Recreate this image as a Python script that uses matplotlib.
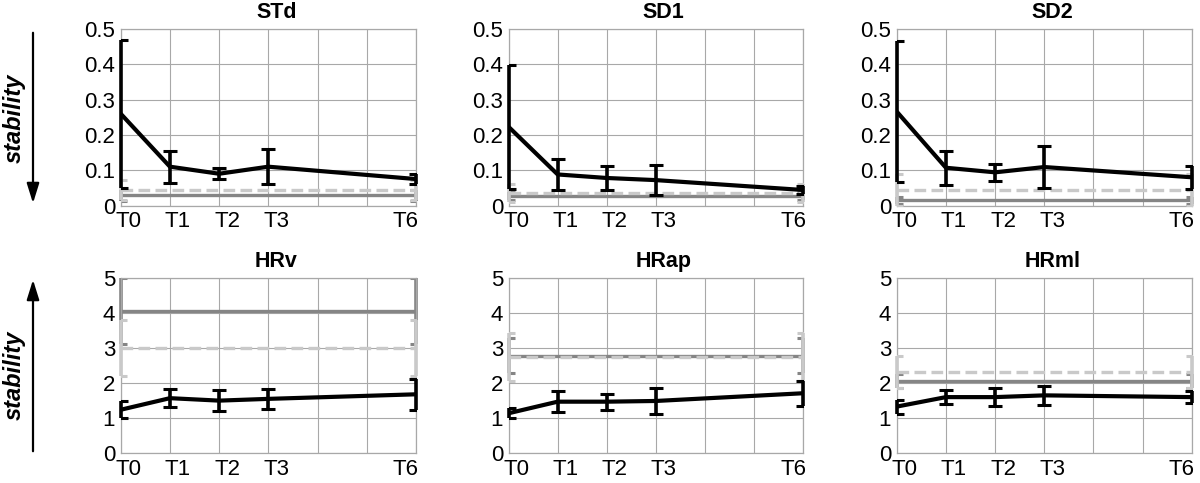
import matplotlib
matplotlib.use('Agg')
import matplotlib.pyplot as plt
from matplotlib.transforms import ScaledTranslation

plt.rcParams['font.family'] = ['Liberation Sans', 'DejaVu Sans']

# ---------------- data ----------------
time_labels = ['T0', 'T1', 'T2', 'T3', 'T6']
time_pos = [0, 1, 2, 3, 6]
titles = ['STd', 'SD1', 'SD2', 'HRv', 'HRap', 'HRml']

std_mean = [0.26, 0.11, 0.09, 0.11, 0.075]
std_err = [0.21, 0.045, 0.015, 0.05, 0.013]
sd1_mean = [0.223, 0.088, 0.078, 0.072, 0.044]
sd1_err = [0.175, 0.043, 0.035, 0.043, 0.01]
sd2_mean = [0.266, 0.107, 0.094, 0.109, 0.08]
sd2_err = [0.2, 0.048, 0.024, 0.06, 0.032]
hrv_mean = [1.24, 1.57, 1.5, 1.55, 1.68]
hrv_err = [0.24, 0.26, 0.3, 0.29, 0.44]
hrap_mean = [1.14, 1.47, 1.47, 1.49, 1.71]
hrap_err = [0.14, 0.3, 0.23, 0.37, 0.36]
hrml_mean = [1.33, 1.6, 1.6, 1.65, 1.6]
hrml_err = [0.2, 0.2, 0.25, 0.28, 0.18]

# reference groups (dark gray solid, light gray dashed)
dark_mean = [0.029, 0.027, 0.015, 4.05, 2.78, 2.05]
dark_err = [0.015, 0.012, 0.01, 0.95, 0.5, 0.2]
light_mean = [0.044, 0.036, 0.043, 3.0, 2.75, 2.32]
light_err = [0.027, 0.026, 0.045, 0.8, 0.68, 0.45]

means = [std_mean, sd1_mean, sd2_mean, hrv_mean, hrap_mean, hrml_mean]
errs = [std_err, sd1_err, sd2_err, hrv_err, hrap_err, hrml_err]
ylims = [0.5, 0.5, 0.5, 5, 5, 5]

# ---------------- figure ----------------
fig = plt.figure(figsize=(12, 4.83), dpi=100)

lefts = [0.1006, 0.4238, 0.7473]
widths = [0.246, 0.2454, 0.2458]
bottoms = [0.5745, 0.0615]
heights = [0.3654, 0.3635]

DARK = '#858585'
LIGHT = '#c9c9c9'
GRID = '#a8a8a8'


def draw_errline(ax, x, y, e, color, lw, ls, elw, cap, z):
    ax.plot(x, y, color=color, lw=lw, ls=ls, zorder=z, solid_capstyle='butt')
    cont = ax.errorbar(x, y, yerr=e, fmt='none', ecolor=color, elinewidth=elw,
                       capsize=cap, capthick=2.2, zorder=z)
    for bl in cont[2]:
        bl.set_linestyle('solid')
        bl.set_clip_on(False)


for i in range(6):
    r, c = divmod(i, 3)
    ax = fig.add_axes([lefts[c], bottoms[r], widths[c], heights[r]])
    ymax = ylims[i]
    ax.set_xlim(0, 6)
    ax.set_ylim(0, ymax)
    ax.set_xticks(range(7))
    ax.set_xticklabels(['T0', 'T1', 'T2', 'T3', '', '', 'T6'])
    if ymax == 0.5:
        yt = [0, 0.1, 0.2, 0.3, 0.4, 0.5]
        ax.set_yticks(yt)
        ax.set_yticklabels(['0', '0.1', '0.2', '0.3', '0.4', '0.5'])
    else:
        yt = [0, 1, 2, 3, 4, 5]
        ax.set_yticks(yt)
        ax.set_yticklabels([str(v) for v in yt])
    ax.grid(True, color=GRID, lw=0.8, zorder=0)
    ax.set_axisbelow(True)
    for s in ax.spines.values():
        s.set_color(GRID)
        s.set_linewidth(0.9)
    ax.tick_params(length=0, labelsize=16, pad=4)
    ax.tick_params(axis='x', pad=4)

    # offset x tick labels like the reference
    for k, lab in enumerate(ax.get_xticklabels()):
        dx = -0.10 if k == 6 else 0.08
        lab.set_transform(lab.get_transform() + ScaledTranslation(dx, 0, fig.dpi_scale_trans))

    # reference lines
    draw_errline(ax, [0, 6], [dark_mean[i]] * 2, [dark_err[i]] * 2, DARK, 2.4, 'solid', 2.6, 4, 2)
    draw_errline(ax, [0, 6], [light_mean[i]] * 2, [light_err[i]] * 2, LIGHT, 2.4, (0, (3.5, 1.6)), 2.6, 4, 3)

    # main series
    draw_errline(ax, time_pos, means[i], errs[i], 'black', 3.0, 'solid', 2.6, 5, 5)

    t = ax.set_title(titles[i], fontsize=15.5, fontweight='bold', pad=8)
    t.set_transform(t.get_transform() + ScaledTranslation(0.08, 0, fig.dpi_scale_trans))

# stability labels with arrows
H = 483.0
W = 1200.0
for yc in (118, 375):
    fig.text(14 / W, 1 - yc / H, 'stability', rotation=90, fontsize=17, fontweight='bold',
             fontstyle='italic', ha='center', va='center')
fig.add_artist(matplotlib.patches.FancyArrowPatch(
    (33 / W, 1 - 30 / H), (33 / W, 1 - 206 / H), transform=fig.transFigure,
    arrowstyle='-|>,head_length=8,head_width=2.5', color='black', lw=1.6, mutation_scale=1.5))
fig.add_artist(matplotlib.patches.FancyArrowPatch(
    (33 / W, 1 - 454 / H), (33 / W, 1 - 277 / H), transform=fig.transFigure,
    arrowstyle='-|>,head_length=8,head_width=2.5', color='black', lw=1.6, mutation_scale=1.5))

fig.savefig('out.png', dpi=100)
